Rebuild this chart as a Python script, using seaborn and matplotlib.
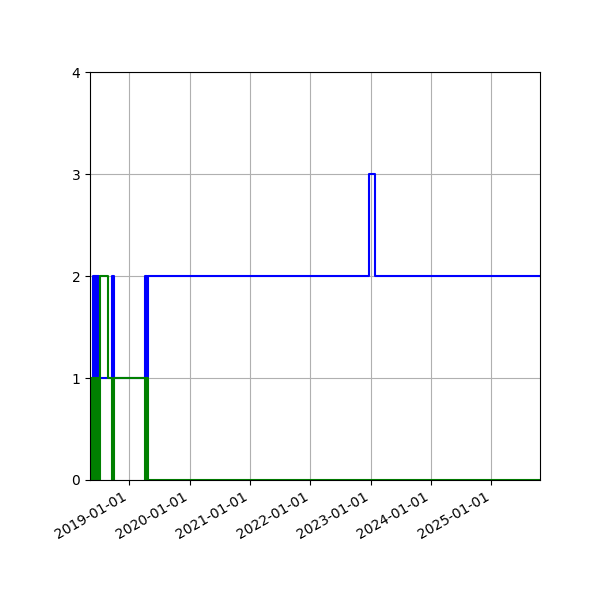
"""
plot_levels : step plot of two level series over time
"""

import pandas as pd
import seaborn as sns

import matplotlib
matplotlib.use("Agg")
import matplotlib.dates as mdates
import matplotlib.pyplot as plt


# change points (value holds until the next date)
blue_dates = ["2018-05-08", "2018-05-26", "2018-05-30", "2018-06-02", "2018-06-06",
              "2018-06-08", "2018-06-13", "2018-06-15", "2018-06-20", "2018-06-22",
              "2018-06-29", "2018-07-05", "2018-09-18", "2018-09-28", "2019-04-05",
              "2019-04-19", "2019-04-23", "2022-12-21", "2023-01-29", "2025-10-23"]
blue_vals = [1, 2, 1, 2, 1, 2, 1, 2, 1, 2, 1, 1, 2, 1, 2, 1, 2, 3, 2, 2]

green_dates = ["2018-05-08", "2018-05-22", "2018-05-27", "2018-05-30", "2018-06-03",
               "2018-06-06", "2018-06-10", "2018-06-13", "2018-06-17", "2018-06-20",
               "2018-06-24", "2018-06-27", "2018-07-01", "2018-07-04", "2018-07-09",
               "2018-08-28", "2018-09-18", "2018-09-28", "2019-04-06", "2019-04-14",
               "2019-04-22", "2025-10-23"]
green_vals = [1, 0, 1, 0, 1, 0, 1, 0, 1, 0, 1, 0, 1, 0, 2, 1, 0, 1, 0, 1, 0, 0]

series_colors = {"blue": "blue", "green": "green"}


def go():
    blue = pd.DataFrame({"date": pd.to_datetime(blue_dates), "value": blue_vals})
    green = pd.DataFrame({"date": pd.to_datetime(green_dates), "value": green_vals})

    fig, ax = plt.subplots(figsize=(6, 6), dpi=100)

    sns.lineplot(data=blue, x="date", y="value", ax=ax, color=series_colors["blue"],
                 drawstyle="steps-post", linewidth=1.5)
    sns.lineplot(data=green, x="date", y="value", ax=ax, color=series_colors["green"],
                 drawstyle="steps-post", linewidth=1.5)

    ax.set_xlim(blue["date"].min(), blue["date"].max())
    ax.set_ylim(0, 4)
    ax.set_yticks([0, 1, 2, 3, 4])
    ax.xaxis.set_major_locator(mdates.YearLocator())
    ax.xaxis.set_major_formatter(mdates.DateFormatter("%Y-%m-%d"))
    ax.set_xlabel("")
    ax.set_ylabel("")
    ax.grid(True)

    fig.autofmt_xdate()
    fig.subplots_adjust(left=0.15, right=0.9, bottom=0.2, top=0.88)
    fig.savefig("out.png", dpi=100)
    plt.close(fig)


if __name__ == '__main__':
    go()
